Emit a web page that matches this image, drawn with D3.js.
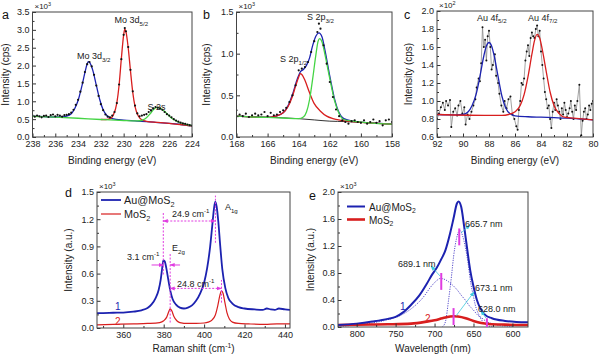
<!DOCTYPE html>
<html><head><meta charset="utf-8">
<script src="https://cdn.jsdelivr.net/npm/d3@7"></script>
<style>body{margin:0;background:#fff}svg{display:block}</style>
</head><body><svg id="c" width="600" height="358"></svg>
<script>
// ---------- DATA ----------
// panel a (Mo 3d XPS)
const aXTicks = [238,236,234,232,230,228,226,224];
const aYTicks = [0,0.5,1,1.5,2,2.5,3,3.5];
const aBlue = [[238,0.58],[237,0.57],[236,0.56],[235.5,0.565],[235,0.585],[234.6,0.65],[234.3,0.79],[234,1.02],[233.7,1.38],[233.4,1.80],[233.2,2.05],[233.1,2.11],[232.95,2.07],[232.7,1.86],[232.4,1.45],[232.1,1.05],[231.8,0.76],[231.5,0.61],[231.2,0.54],[231,0.515],[230,0.47],[229,0.45],[228,0.43],[227,0.405],[226,0.38],[225,0.35],[224,0.31]];
const aRed = [[232,0.49],[231.6,0.49],[231.2,0.515],[230.9,0.62],[230.6,0.95],[230.4,1.45],[230.2,2.2],[230.0,2.85],[229.9,3.02],[229.8,2.95],[229.6,2.5],[229.4,1.85],[229.2,1.25],[229.0,0.85],[228.7,0.58],[228.4,0.48],[228,0.44],[227,0.41],[226,0.38],[225,0.35],[224,0.31]];
const aGreen = [[238,0.58],[236,0.555],[234,0.525],[232,0.49],[230,0.46],[229,0.45],[228.6,0.455],[228.3,0.48],[228.0,0.54],[227.7,0.64],[227.4,0.76],[227.1,0.83],[226.8,0.81],[226.5,0.74],[226.1,0.62],[225.7,0.51],[225.2,0.42],[224.6,0.36],[224,0.32]];
const aDots = [[238,0.60],[237.8,0.57],[237.6,0.60],[237.4,0.58],[237.2,0.55],[237.0,0.59],[236.8,0.60],[236.6,0.56],[236.4,0.61],[236.2,0.63],[236.0,0.58],[235.8,0.62],[235.6,0.60],[235.4,0.57],[235.2,0.61],[235.0,0.62],[234.8,0.64],[234.6,0.68],[234.4,0.76],[234.2,0.90],[234.0,1.04],[233.8,1.27],[233.6,1.52],[233.4,1.82],[233.2,2.04],[233.0,2.10],[232.8,1.98],[232.6,1.74],[232.4,1.44],[232.2,1.15],[232.0,0.92],[231.8,0.75],[231.6,0.63],[231.4,0.57],[231.2,0.55],[231.0,0.60],[230.8,0.70],[230.6,0.95],[230.4,1.47],[230.2,2.18],[230.0,2.86],[229.9,3.05],[229.8,2.96],[229.6,2.52],[229.4,1.88],[229.2,1.28],[229.0,0.88],[228.8,0.66],[228.6,0.58],[228.4,0.60],[228.2,0.62],[228.0,0.64],[227.8,0.70],[227.6,0.74],[227.4,0.80],[227.2,0.84],[227.0,0.82],[226.8,0.80],[226.6,0.76],[226.4,0.70],[226.2,0.64],[226.0,0.60],[225.8,0.55],[225.6,0.50],[225.4,0.46],[225.2,0.43],[225.0,0.40],[224.8,0.38],[224.6,0.37],[224.4,0.35],[224.2,0.33],[224.0,0.32]];

// panel b (S 2p XPS)
const bXTicks = [168,166,164,162,160,158];
const bYTicks = [0,0.5,1,1.5];
const bBase = [[168,0.25],[165,0.23],[164,0.22],[163,0.205],[162,0.19],[161,0.185],[160,0.175],[158,0.155]];
const bBlue = [[168,0.25],[166,0.235],[165.5,0.25],[165,0.29],[164.7,0.37],[164.4,0.51],[164.1,0.69],[163.9,0.78],[163.7,0.81],[163.5,0.86],[163.3,0.95],[163.1,1.10],[162.9,1.21],[162.7,1.25],[162.5,1.20],[162.3,1.03],[162.0,0.73],[161.7,0.46],[161.4,0.29],[161.1,0.22],[160.5,0.19],[158,0.155]];
const bRed = [[168,0.25],[167,0.24],[166,0.235],[165.5,0.25],[165,0.29],[164.7,0.36],[164.4,0.49],[164.2,0.61],[164.0,0.72],[163.9,0.76],[163.8,0.75],[163.6,0.68],[163.3,0.53],[163.0,0.40],[162.6,0.31],[162.2,0.25],[161.8,0.22],[161.3,0.20],[160.5,0.185],[159.5,0.17],[158,0.155]];
const bGreen = [[168,0.25],[167,0.24],[166,0.235],[165,0.228],[164,0.22],[163.7,0.24],[163.5,0.30],[163.3,0.45],[163.1,0.70],[162.9,0.98],[162.75,1.15],[162.65,1.18],[162.5,1.14],[162.3,0.98],[162.0,0.70],[161.7,0.44],[161.4,0.28],[161.1,0.21],[160.5,0.19],[159.5,0.17],[158,0.155]];
const bDots = [[168,0.32],[167.8,0.27],[167.6,0.25],[167.4,0.28],[167.2,0.24],[167.0,0.26],[166.8,0.28],[166.6,0.26],[166.4,0.27],[166.2,0.30],[166.0,0.25],[165.8,0.29],[165.6,0.26],[165.4,0.27],[165.2,0.30],[165.0,0.32],[164.8,0.35],[164.6,0.42],[164.4,0.50],[164.2,0.62],[164.0,0.80],[163.8,0.82],[163.6,0.84],[163.4,0.90],[163.2,1.02],[163.0,1.15],[162.8,1.26],[162.7,1.36],[162.6,1.30],[162.4,1.10],[162.2,0.88],[162.0,0.66],[161.8,0.48],[161.6,0.33],[161.4,0.25],[161.2,0.20],[161.0,0.18],[160.8,0.16],[160.6,0.19],[160.4,0.20],[160.2,0.18],[160.0,0.17],[159.8,0.20],[159.6,0.16],[159.4,0.18],[159.2,0.21],[159.0,0.17],[158.8,0.19],[158.6,0.14],[158.4,0.20],[158.2,0.21],[158.0,0.18]];

// panel c (Au 4f XPS)
const cXTicks = [92,90,88,86,84,82,80];
const cYTicks = [0.6,0.8,1.0,1.2,1.4,1.6,1.8,2.0];
const cBlue = [[92,0.85],[90.5,0.845],[90,0.85],[89.6,0.88],[89.3,0.95],[89,1.07],[88.7,1.27],[88.4,1.50],[88.2,1.61],[88.0,1.65],[87.8,1.61],[87.6,1.50],[87.3,1.27],[87.0,1.05],[86.7,0.92],[86.4,0.86],[86,0.835],[85,0.825],[84,0.82],[83,0.815],[82,0.81],[81,0.80],[80,0.79]];
const cRed = [[92,0.85],[88,0.84],[87,0.84],[86.5,0.85],[86.0,0.88],[85.6,0.95],[85.3,1.07],[85.0,1.27],[84.7,1.52],[84.5,1.67],[84.3,1.74],[84.1,1.70],[83.9,1.57],[83.6,1.33],[83.3,1.10],[83.0,0.95],[82.6,0.86],[82.2,0.82],[81.5,0.81],[80,0.79]];
const cData = [[92.0,0.80],[91.85,0.86],[91.7,0.93],[91.55,0.98],[91.4,0.90],[91.3,1.00],[91.15,0.95],[91.0,1.01],[90.9,0.71],[90.75,0.88],[90.6,0.92],[90.45,0.84],[90.35,0.95],[90.2,1.00],[90.05,0.86],[89.9,0.93],[89.8,0.74],[89.65,0.85],[89.5,0.80],[89.35,0.88],[89.2,0.95],[89.05,1.02],[88.95,1.15],[88.8,1.25],[88.7,1.22],[88.6,1.42],[88.5,1.82],[88.4,1.60],[88.3,1.68],[88.2,1.45],[88.1,1.72],[88.0,1.78],[87.9,1.60],[87.8,1.35],[87.7,1.40],[87.55,1.52],[87.45,1.28],[87.3,1.20],[87.2,1.08],[87.05,0.95],[86.9,0.88],[86.8,1.00],[86.65,0.92],[86.5,1.02],[86.35,1.05],[86.2,0.85],[86.05,0.80],[85.9,0.72],[85.8,0.68],[85.7,0.90],[85.6,1.00],[85.5,1.20],[85.4,1.18],[85.3,1.25],[85.2,1.45],[85.1,1.55],[85.0,1.62],[84.9,1.50],[84.8,1.70],[84.7,1.76],[84.6,1.72],[84.5,1.70],[84.4,1.80],[84.3,1.84],[84.2,1.72],[84.1,1.78],[84.0,1.55],[83.9,1.40],[83.8,1.25],[83.7,1.10],[83.6,1.02],[83.5,0.92],[83.4,0.95],[83.3,0.80],[83.2,0.70],[83.1,0.88],[83.0,0.98],[82.9,0.90],[82.8,1.02],[82.7,0.95],[82.6,0.88],[82.5,0.80],[82.4,0.92],[82.3,0.85],[82.2,0.98],[82.1,0.90],[82.0,0.82],[81.9,0.86],[81.8,0.92],[81.7,1.00],[81.6,0.88],[81.5,0.80],[81.4,0.95],[81.3,0.90],[81.2,1.00],[81.05,1.18],[80.9,0.62],[80.8,0.78],[80.7,0.88],[80.6,0.92],[80.5,0.80],[80.4,0.85],[80.3,0.95],[80.2,0.90],[80.1,0.97],[80.0,1.00]];

// panel d (Raman)
const dXTicks = [360,380,400,420,440];
const dYTicks = [0,0.3,0.6,0.9,1.2,1.5];
const dAu = [[347,0.165],[350,0.165],[355,0.168],[360,0.17],[365,0.18],[369,0.195],[372,0.22],[374,0.26],[376,0.33],[377.5,0.42],[378.5,0.53],[379.2,0.65],[379.8,0.745],[380.5,0.735],[381.3,0.66],[382.3,0.53],[383.3,0.41],[384.4,0.32],[386,0.26],[388,0.225],[390,0.215],[392,0.225],[394,0.25],[396,0.30],[398,0.38],[400,0.50],[401.5,0.66],[403,0.90],[404,1.12],[404.9,1.32],[405.5,1.39],[406.2,1.34],[407,1.18],[408,0.90],[409,0.65],[410.5,0.44],[412,0.33],[414,0.27],[417,0.23],[420,0.215],[425,0.205],[429,0.2],[431,0.215],[433,0.205],[435,0.2],[437,0.215],[440,0.205],[442.5,0.2]];
const dMo = [[347,0.035],[355,0.04],[365,0.045],[372,0.05],[378,0.06],[380,0.08],[381.5,0.12],[382.5,0.18],[383.2,0.21],[384,0.19],[385,0.13],[386.5,0.08],[388,0.06],[392,0.05],[396,0.05],[400,0.055],[402,0.065],[404,0.09],[405.5,0.14],[406.8,0.25],[407.8,0.36],[408.6,0.41],[409.4,0.38],[410.3,0.28],[411.3,0.17],[412.5,0.10],[414,0.065],[417,0.05],[422,0.045],[430,0.04],[436,0.045],[442.5,0.045]];

// panel e (PL)
const eXTicks = [800,750,700,650,600];
const eYTicks = [0,0.4,0.8,1.2,1.6,2.0];
const eAu = [[824,0.03],[800,0.05],[780,0.08],[760,0.12],[750,0.15],[740,0.22],[730,0.33],[720,0.46],[710,0.64],[703,0.78],[697,0.88],[692,0.99],[686,1.14],[680,1.39],[675.6,1.61],[671.3,1.83],[669.2,1.86],[665.8,1.78],[662,1.49],[658.5,1.19],[654.2,0.84],[650,0.60],[645.6,0.40],[641.4,0.28],[635,0.18],[626.4,0.13],[609.4,0.09],[595,0.075],[580,0.07]];
const eMo = [[824,0.03],[800,0.035],[760,0.04],[730,0.05],[710,0.08],[700,0.10],[690,0.13],[680,0.155],[675,0.16],[670,0.155],[660,0.13],[650,0.09],[640,0.06],[630,0.045],[610,0.035],[580,0.03]];
const eCompA = [[690,0.0],[686,0.08],[682,0.40],[678,0.78],[675.6,1.04],[672,1.30],[669.2,1.41],[667,1.43],[664,1.35],[660.6,1.19],[657,0.95],[654.2,0.70],[650,0.45],[647.8,0.33],[643,0.18],[639.3,0.10],[633,0.03],[625,0.0]];
const eCompB = [[824,0.01],[800,0.03],[780,0.06],[763,0.10],[746,0.16],[730,0.27],[716,0.42],[703,0.62],[697,0.69],[692.7,0.72],[686,0.70],[682,0.67],[675,0.60],[671,0.55],[665,0.46],[660.6,0.40],[655,0.31],[650,0.25],[645,0.18],[639,0.13],[632,0.07],[626,0.05],[615,0.02],[600,0.01]];

// ---------- DRAWING ----------
const FONT = '"Liberation Sans", Arial, Helvetica, sans-serif';
const BLUE = '#1c22b0', RED = '#d81e1e', GREEN = '#44d444', MAG = '#e03ce0', CYAN = '#3cc8dc';
const svg = d3.select('#c');
const defs = svg.append('defs');
function marker(id, color, size) {
  defs.append('marker').attr('id', id).attr('viewBox', '0 0 10 10').attr('refX', 9).attr('refY', 5)
    .attr('markerWidth', size).attr('markerHeight', size).attr('markerUnits', 'userSpaceOnUse')
    .attr('orient', 'auto-start-reverse')
    .append('path').attr('d', 'M0,1 L10,5 L0,9 z').attr('fill', color);
}
marker('arrM', MAG, 5);
marker('arrC', CYAN, 5);

function makePanel(p) {
  const x = d3.scaleLinear().domain(p.xd).range([p.l, p.r]);
  const y = d3.scaleLinear().domain(p.yd).range([p.b, p.t]);
  const g = svg.append('g');
  const id = 'clip' + p.name;
  defs.append('clipPath').attr('id', id).append('rect')
    .attr('x', p.l).attr('y', p.t).attr('width', p.r - p.l).attr('height', p.b - p.t);
  const plot = g.append('g').attr('clip-path', `url(#${id})`);
  return {x, y, g, plot, p};
}
function styleAxis(s) {
  s.select('.domain').remove();
  s.selectAll('text').attr('font-size', 9).attr('font-family', FONT).attr('fill', '#222');
  s.selectAll('line').attr('stroke', '#333');
}
function axes(P, o) {
  const p = P.p;
  P.g.append('g').attr('transform', `translate(0,${p.b})`)
    .call(d3.axisBottom(P.x).tickValues(o.xt).tickSizeInner(-3.5).tickSizeOuter(0).tickPadding(4).tickFormat(d3.format('d')))
    .call(styleAxis);
  P.g.append('g').attr('transform', `translate(0,${p.b})`)
    .call(d3.axisBottom(P.x).tickValues(o.xm).tickSizeInner(-2).tickSizeOuter(0).tickFormat(''))
    .call(styleAxis);
  P.g.append('g').attr('transform', `translate(${p.l},0)`)
    .call(d3.axisLeft(P.y).tickValues(o.yt).tickSizeInner(-3.5).tickSizeOuter(0).tickPadding(3).tickFormat(d3.format('.1f')))
    .call(styleAxis);
  P.g.append('g').attr('transform', `translate(${p.l},0)`)
    .call(d3.axisLeft(P.y).tickValues(o.ym).tickSizeInner(-2).tickSizeOuter(0).tickFormat(''))
    .call(styleAxis);
  P.g.append('rect').attr('x', p.l).attr('y', p.t).attr('width', p.r - p.l).attr('height', p.b - p.t)
    .attr('fill', 'none').attr('stroke', '#444').attr('stroke-width', 1);
  rich(P.g, (p.l + p.r) / 2, o.titleY, o.xTitle, {size: 10, anchor: 'middle'});
  const yt = P.g.append('g').attr('transform', `translate(${o.yTitleX},${(p.t + p.b) / 2}) rotate(-90)`);
  rich(yt, 0, 0, [o.yTitle], {size: 10, anchor: 'middle'}).attr('dy', '0.35em');
  rich(P.g, p.l + 2, p.t - 3, ['\u00d710', [o.mult, 'sup']], {size: 8});
  P.g.append('text').attr('x', o.letter[0]).attr('y', o.letter[1]).text(o.letter[2])
    .attr('font-size', 12.5).attr('font-family', FONT).attr('fill', '#111');
}
function rich(g, x, y, parts, opt) {
  const size = opt.size || 9;
  const t = g.append('text').attr('x', x).attr('y', y).attr('font-size', size)
    .attr('fill', opt.fill || '#222').attr('text-anchor', opt.anchor || 'start').attr('font-family', FONT);
  let cur = 0;
  parts.forEach(pt => {
    const [s, kind] = typeof pt === 'string' ? [pt, 'n'] : pt;
    const target = kind === 'sub' ? size * 0.28 : kind === 'sup' ? -size * 0.4 : 0;
    const ts = t.append('tspan').attr('dy', target - cur).text(s);
    if (kind !== 'n') ts.attr('font-size', size * 0.68);
    cur = target;
  });
  return t;
}
function line(P, data, color, w, curve, dash) {
  const gen = d3.line().x(d => P.x(d[0])).y(d => P.y(d[1])).curve(curve || d3.curveMonotoneX);
  const pth = P.plot.append('path').attr('d', gen(data)).attr('fill', 'none').attr('stroke', color)
    .attr('stroke-width', w).attr('stroke-linejoin', 'round');
  if (dash) pth.attr('stroke-dasharray', dash);
  return pth;
}
function dots(P, data, r) {
  P.plot.selectAll(null).data(data).enter().append('circle')
    .attr('cx', d => P.x(d[0])).attr('cy', d => P.y(d[1])).attr('r', r).attr('fill', '#111');
}
function seg(P, x1, y1, x2, y2, color, w, dash, mStart, mEnd) {
  const l = P.g.append('line').attr('x1', P.x(x1)).attr('y1', P.y(y1)).attr('x2', P.x(x2)).attr('y2', P.y(y2))
    .attr('stroke', color).attr('stroke-width', w);
  if (dash) l.attr('stroke-dasharray', dash);
  if (mStart) l.attr('marker-start', `url(#${mStart})`);
  if (mEnd) l.attr('marker-end', `url(#${mEnd})`);
}

// ----- panel a -----
const A = makePanel({name: 'a', l: 32.5, r: 192, t: 12, b: 137, xd: [238, 224], yd: [0, 3.5]});
line(A, aBlue, BLUE, 1.3);
line(A, aRed, RED, 1.3);
line(A, aGreen, GREEN, 1.3);
dots(A, aDots, 1.1);
axes(A, {xt: aXTicks, xm: d3.range(237, 224, -2), yt: aYTicks, ym: d3.range(0.25, 3.5, 0.5),
  titleY: 164, xTitle: ['Binding energy (eV)'], yTitleX: 9, yTitle: 'Intensity (cps)', mult: '3', letter: [2, 19, 'a']});
rich(A.g, A.x(234.1), A.y(2.18), ['Mo 3d', ['3/2', 'sub']], {});
rich(A.g, A.x(230.8), A.y(3.19), ['Mo 3d', ['5/2', 'sub']], {});
rich(A.g, A.x(227.9), A.y(0.76), ['S 2s'], {});

// ----- panel b -----
const B = makePanel({name: 'b', l: 236.5, r: 392, t: 12, b: 137, xd: [168, 158], yd: [0, 1.5]});
line(B, bBase, '#333', 1);
line(B, bBlue, BLUE, 1.3);
line(B, bRed, RED, 1.3);
line(B, bGreen, GREEN, 1.3);
dots(B, bDots, 1.1);
axes(B, {xt: bXTicks, xm: d3.range(167, 158, -2), yt: bYTicks, ym: [0.25, 0.75, 1.25],
  titleY: 164, xTitle: ['Binding energy (eV)'], yTitleX: 210, yTitle: 'Intensity (cps)', mult: '3', letter: [203, 19, 'b']});
rich(B.g, B.x(163.47), B.y(1.40), ['S 2p', ['3/2', 'sub']], {});
rich(B.g, B.x(165.2), B.y(0.90), ['S 2p', ['1/2', 'sub']], {});

// ----- panel c -----
const C = makePanel({name: 'c', l: 437, r: 593, t: 11, b: 137, xd: [92, 80], yd: [0.6, 2.0]});
line(C, cData, '#8a8a8a', 0.8, d3.curveLinear);
dots(C, cData, 1.0);
line(C, cBlue, BLUE, 1.3);
line(C, cRed, RED, 1.3);
axes(C, {xt: cXTicks, xm: d3.range(91, 80, -2), yt: cYTicks, ym: d3.range(0.7, 2.0, 0.2),
  titleY: 164, xTitle: ['Binding energy (eV)'], yTitleX: 412, yTitle: 'Intensity (cps)', mult: '2', letter: [404, 19, 'c']});
rich(C.g, C.x(88.92), C.y(1.89), ['Au 4f', ['5/2', 'sub']], {});
rich(C.g, C.x(85.0), C.y(1.89), ['Au 4f', ['7/2', 'sub']], {});

// ----- panel d -----
const D = makePanel({name: 'd', l: 97, r: 290, t: 192, b: 328, xd: [347, 442.5], yd: [0, 1.5]});
line(D, dAu, BLUE, 1.8);
line(D, dMo, RED, 1.2);
axes(D, {xt: dXTicks, xm: [350, 370, 390, 410, 430], yt: dYTicks, ym: [0.15, 0.45, 0.75, 1.05, 1.35],
  titleY: 352, xTitle: ['Raman shift (cm', ['-1', 'sup'], ')'], yTitleX: 72, yTitle: 'Intensity (a.u.)', mult: '3', letter: [65, 197, 'd']});
seg(D, 379.8, 0.59, 379.8, 1.28, MAG, 1, '2,1.5');
seg(D, 383.2, 0.06, 383.2, 0.83, MAG, 1, '2,1.5');
seg(D, 405.6, 0.94, 405.6, 1.46, MAG, 1, '2,1.5');
seg(D, 408.6, 0.28, 408.6, 0.53, MAG, 1, '2,1.5');
seg(D, 379.8, 1.18, 405.6, 1.18, MAG, 1, '2,1.5', 'arrM', 'arrM');
seg(D, 383.2, 0.437, 408.6, 0.437, MAG, 1, '2,1.5', 'arrM', 'arrM');
seg(D, 374.0, 0.695, 379.8, 0.695, MAG, 1, null, null, 'arrM');
seg(D, 388.1, 0.695, 383.2, 0.695, MAG, 1, null, null, 'arrM');
rich(D.g, D.x(384.1), D.y(1.224), ['24.9 cm', ['-1', 'sup']], {});
rich(D.g, D.x(361.8), D.y(0.75), ['3.1 cm', ['-1', 'sup']], {});
rich(D.g, D.x(386.6), D.y(0.452), ['24.8 cm', ['-1', 'sup']], {});
rich(D.g, D.x(384.1), D.y(0.849), ['E', ['2g', 'sub']], {});
rich(D.g, D.x(410.3), D.y(1.30), ['A', ['1g', 'sub']], {});
rich(D.g, D.x(355.9), D.y(0.2), ['1'], {fill: BLUE, size: 10});
rich(D.g, D.x(355.9), D.y(0.033), ['2'], {fill: RED, size: 10});
D.g.append('line').attr('x1', 101).attr('x2', 121).attr('y1', 200).attr('y2', 200).attr('stroke', BLUE).attr('stroke-width', 1.8);
rich(D.g, 124, 204, ['Au@MoS', ['2', 'sub']], {size: 10.8});
D.g.append('line').attr('x1', 101).attr('x2', 121).attr('y1', 214).attr('y2', 214).attr('stroke', RED).attr('stroke-width', 1.2);
rich(D.g, 124, 218, ['MoS', ['2', 'sub']], {size: 10.8});

// ----- panel e -----
const E = makePanel({name: 'e', l: 338, r: 528, t: 192, b: 327, xd: [824, 580], yd: [0, 2.0]});
line(E, eCompB, '#5a50cc', 1, null, '1.2,1.2');
line(E, eCompA, '#5a50cc', 1, null, '1.2,1.2');
line(E, eMo, RED, 2.6);
line(E, eAu, BLUE, 2.0);
axes(E, {xt: eXTicks, xm: [775, 725, 675, 625], yt: eYTicks, ym: [0.2, 0.6, 1.0, 1.4, 1.8],
  titleY: 352, xTitle: ['Wavelength (nm)'], yTitleX: 314, yTitle: 'Intensity (a.u.)', mult: '3', letter: [309, 200, 'e']});
seg(E, 668.3, 1.21, 668.3, 1.46, MAG, 2);
seg(E, 691.4, 0.55, 691.4, 0.80, MAG, 2);
seg(E, 675.6, 0.03, 675.6, 0.28, MAG, 2);
seg(E, 632.8, 0.0, 632.8, 0.13, MAG, 2);
seg(E, 666.0, 1.393, 654.5, 1.511, CYAN, 0.8, null, null, 'arrC');
seg(E, 693.0, 0.756, 704.6, 0.904, CYAN, 0.8, null, null, 'arrC');
seg(E, 672.5, 0.163, 649.3, 0.519, CYAN, 0.8, null, null, 'arrC');
seg(E, 634.0, 0.133, 640.4, 0.237, CYAN, 0.8, null, null, 'arrC');
rich(E.g, E.x(660.9), E.y(1.481), ['665.7 nm'], {});
rich(E.g, E.x(747.0), E.y(0.889), ['689.1 nm'], {});
rich(E.g, E.x(648.1), E.y(0.533), ['673.1 nm'], {});
rich(E.g, E.x(644.2), E.y(0.222), ['628.0 nm'], {});
rich(E.g, E.x(744.4), E.y(0.252), ['1'], {fill: BLUE, size: 10});
rich(E.g, E.x(712.3), E.y(0.074), ['2'], {fill: RED, size: 10});
E.g.append('line').attr('x1', 347).attr('x2', 365).attr('y1', 206.5).attr('y2', 206.5).attr('stroke', BLUE).attr('stroke-width', 2);
rich(E.g, 369, 210.5, ['Au@MoS', ['2', 'sub']], {size: 10});
E.g.append('line').attr('x1', 347).attr('x2', 365).attr('y1', 219.5).attr('y2', 219.5).attr('stroke', RED).attr('stroke-width', 2.6);
rich(E.g, 369, 223.5, ['MoS', ['2', 'sub']], {size: 10});
</script>
</body></html>
